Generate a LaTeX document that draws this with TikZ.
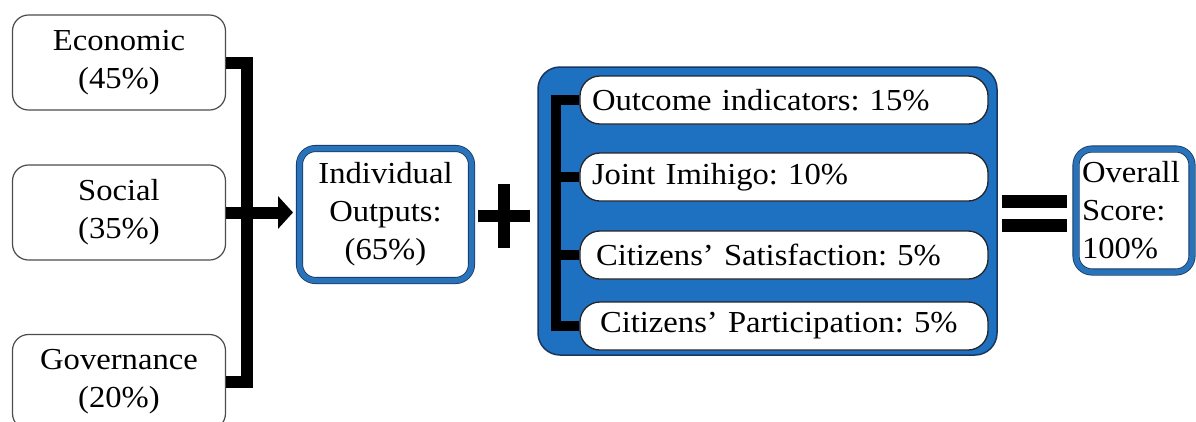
\documentclass[tikz,border=0pt]{standalone}
\usepackage{fontspec}
\setmainfont[FakeStretch=1.07]{Liberation Serif}
\usetikzlibrary{arrows.meta}
\definecolor{fillblue}{RGB}{30,112,192}
\definecolor{edgeblue}{RGB}{40,115,185}
\definecolor{navy}{RGB}{25,55,95}
\frenchspacing
\tikzset{
 txt/.style={font=\fontsize{30.5}{38}\selectfont},
 graybox/.style={draw=black!70, line width=1.2pt, fill=white, rounded corners=16pt, align=center, txt, inner sep=0pt, minimum width=213pt, minimum height=95pt},
 bluebox/.style={draw=navy, line width=0.8pt, double=edgeblue, double distance=5.5pt, fill=white, rounded corners=16pt, inner sep=0pt, txt},
 bigbox/.style={draw=navy, line width=1.5pt, fill=fillblue, rounded corners=22pt, minimum width=459pt, minimum height=288pt, inner sep=0pt},
 rowbox/.style={draw=black!85, line width=1.3pt, fill=white, rounded corners=20pt, minimum width=408pt, minimum height=48pt, text width=384pt, align=left, inner xsep=12pt, inner ysep=0pt, txt},
 bar/.style={line width=12pt, black, line join=miter},
 ibar/.style={line width=10pt, black, line join=miter},
}
\begin{document}
\begin{tikzpicture}[x=1pt,y=-1pt]
\useasboundingbox (0,0) rectangle (1196,421);
\clip (0,0) rectangle (1196,421);
% left boxes
\node[graybox] (econ) at (119,62.5) {Economic\\(45\%)};
\node[graybox] (soc) at (119,212.5) {Social\\(35\%)};
\node[graybox] (gov) at (119,382) {Governance\\(20\%)};
% individual outputs
\node[bluebox, minimum width=172pt, minimum height=132pt, align=center] (ind) at (385.5,214.5) {Individual\\Outputs:\\(65\%)};
% left bracket
\coordinate (bx) at (247,0);
\draw[bar] (econ.east) -- (econ.east -| bx) -- (gov.east -| bx) -- (gov.east);
\coordinate (tip) at (293,212.5);
\draw[bar, -{Triangle[length=15pt,width=32pt]}] (soc.east) -- (tip);
% plus
\coordinate (plus) at (504,216);
\fill[black] ([xshift=-26pt,yshift=-6pt]plus) rectangle ([xshift=26pt,yshift=6pt]plus);
\fill[black] ([xshift=-6pt,yshift=-32pt]plus) rectangle ([xshift=6pt,yshift=32pt]plus);
% big box
\node[bigbox] (big) at (767.5,211) {};
\node[rowbox] (r1) at (784,100) {Outcome indicators: 15\%};
\node[rowbox] (r2) at (784,177) {Joint Imihigo: 10\%};
\node[rowbox] (r3) at (784,255) {\hspace{4pt}Citizens’ Satisfaction: 5\%};
\node[rowbox] (r4) at (784,326) {\hspace{8pt}Citizens’ Participation: 5\%};
\coordinate (ib) at (556,0);
\draw[ibar] (r1.west) -- (r1.west -| ib) -- (r4.west -| ib) -- (r4.west);
\draw[ibar] (r2.west -| ib) -- (r2.west);
\draw[ibar] (r3.west -| ib) -- (r3.west);
% equals
\coordinate (eq) at (1034.5,213.5);
\fill[black] ([xshift=-32.5pt,yshift=-18.5pt]eq) rectangle ([xshift=32.5pt,yshift=-5.5pt]eq);
\fill[black] ([xshift=-32.5pt,yshift=5.5pt]eq) rectangle ([xshift=32.5pt,yshift=18.5pt]eq);
% overall
\node[bluebox, minimum width=116pt, minimum height=123pt, text width=104pt, align=left, inner xsep=6pt] (over) at (1134,210.5) {Overall\\Score:\\100\%};
\end{tikzpicture}
\end{document}
